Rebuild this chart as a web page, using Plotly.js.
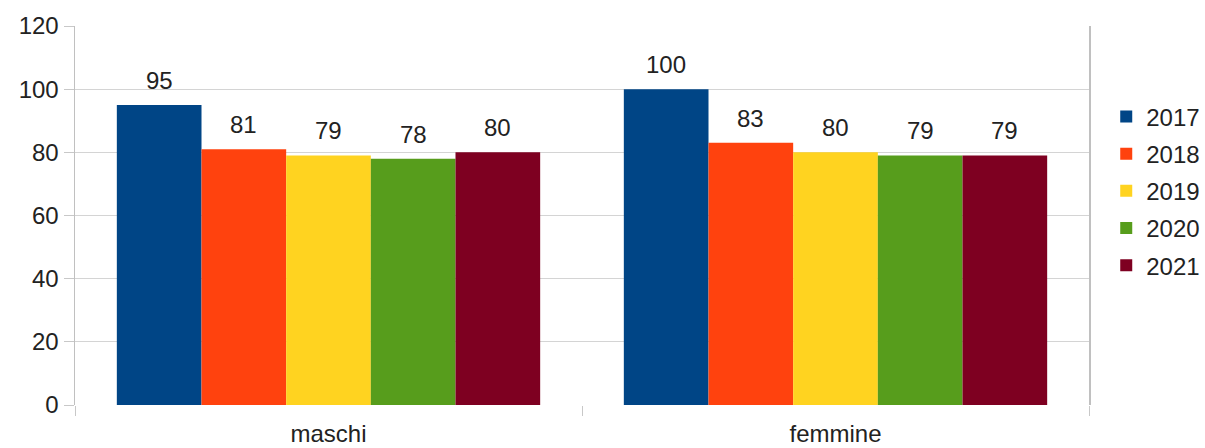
<!DOCTYPE html>
<html><head><meta charset="utf-8">
<script src="https://cdn.plot.ly/plotly-3.0.1.min.js"></script>
<style>body{margin:0;background:#fff}#c{width:1205px;height:448px}</style>
</head><body><div id="c"></div>
<script>
const categories = ["maschi", "femmine"];
const years = ["2017", "2018", "2019", "2020", "2021"];
const v2017 = [95, 100];
const v2018 = [81, 83];
const v2019 = [79, 80];
const v2020 = [78, 79];
const v2021 = [80, 79];
const yTicks = [0, 20, 40, 60, 80, 100, 120];

const series = [v2017, v2018, v2019, v2020, v2021];
const colors = ["#004586", "#ff420e", "#ffd320", "#579d1c", "#7e0021"];
const font = {family: "Liberation Sans, Arial, sans-serif", size: 24, color: "#222"};
const bargap = 0.165;

const traces = series.map((vals, i) => ({
  type: "bar", name: years[i], x: categories, y: vals,
  marker: {color: colors[i], line: {width: 0}},
  legendgroup: "g" + i,
  hoverinfo: "none"
}));

const n = series.length;
const w = (1 - bargap) / n;
const annotations = [];
series.forEach((vals, i) => {
  vals.forEach((v, j) => {
    annotations.push({
      x: j - (1 - bargap) / 2 + (i + 0.5) * w, xref: "x",
      y: v, yref: "y", yanchor: "bottom", yshift: 9,
      text: String(v), showarrow: false, font: font
    });
  });
});

const layout = {
  width: 1205, height: 448,
  margin: {l: 75, r: 116, t: 26, b: 43, autoexpand: false},
  paper_bgcolor: "#fff", plot_bgcolor: "#fff",
  font: font,
  barmode: "group", bargap: bargap, bargroupgap: 0,
  showlegend: true,
  legend: {x: 1.017, xanchor: "left", xref: "paper", y: 0.565, yanchor: "middle",
           font: font, traceorder: "grouped", tracegroupgap: 3, itemwidth: 30,
           bgcolor: "rgba(0,0,0,0)"},
  xaxis: {type: "category", tickson: "boundaries", ticks: "outside", ticklen: 10,
          tickcolor: "#c8c8c8", showgrid: false, showline: false, zeroline: false,
          tickfont: font, ticklabelstandoff: 12, fixedrange: true},
  yaxis: {range: [0, 120], tickvals: yTicks, ticks: "outside", ticklen: 10,
          tickcolor: "#c8c8c8", gridcolor: "#d4d4d4", showline: true, linecolor: "#c0c0c0",
          linewidth: 1.5, mirror: true, zeroline: false, tickfont: font, fixedrange: true},
  annotations: annotations
};

Plotly.newPlot("c", traces, layout, {staticPlot: true});
</script></body></html>
